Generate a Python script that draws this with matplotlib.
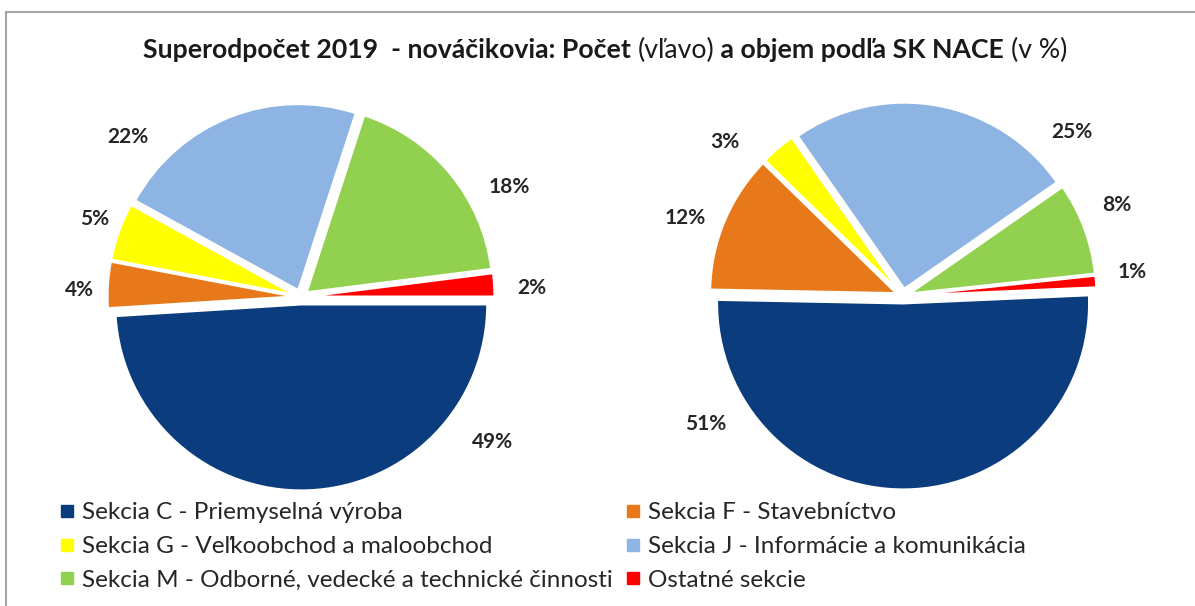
import matplotlib
matplotlib.use("Agg")
import matplotlib.pyplot as plt
from matplotlib.lines import Line2D
from matplotlib.patches import Rectangle

# ---- data ----
categories = ["Sekcia C - Priemyselná výroba", "Sekcia F - Stavebníctvo",
              "Sekcia G - Veľkoobchod a maloobchod", "Sekcia J - Informácie a komunikácia",
              "Sekcia M - Odborné, vedecké a technické činnosti", "Ostatné sekcie"]
count_pct = [49, 4, 5, 22, 18, 2]      # left pie: Počet
volume_pct = [51, 12, 3, 25, 8, 1]     # right pie: objem
colors = ["#0B3C7D", "#E8791B", "#FFFF00", "#8DB4E2", "#92D050", "#FF0000"]

title_parts = [("Superodpočet 2019  - nováčikovia: Počet ", "bold"), ("(vľavo)", "normal"),
               (" a objem podľa SK NACE ", "bold"), ("(v %)", "normal")]

# layout (label positions in pie radius units)
left_label_pos = [(1.03, -0.78), (-1.19, 0.04), (-1.11, 0.42), (-0.93, 0.86), (1.12, 0.59), (1.24, 0.05)]
right_label_pos = [(-1.06, -0.69), (-1.17, 0.42), (-0.96, 0.83), (0.91, 0.88), (1.15, 0.49), (1.23, 0.13)]

FONT = "Lato"
plt.rcParams["font.family"] = [FONT, "DejaVu Sans"]

W, H = 1195, 606
fig = plt.figure(figsize=(W / 100, H / 100), dpi=100)

# frame
fig.patches.append(Rectangle((6 / W, -0.05), 1.2, (H - 12) / H + 0.05, transform=fig.transFigure,
                             fill=False, edgecolor="#A6A6A6", linewidth=1.5))

R = 186
half = 1.32


def pie_axes(cx, cy_top):
    w = 2 * half * R
    cy = H - cy_top
    return fig.add_axes([(cx - w / 2) / W, (cy - w / 2) / H, w / W, w / H])


def draw_pie(ax, values, start, label_pos):
    ax.pie(values, colors=colors, startangle=start, counterclock=False, radius=1.0,
           explode=[0.04] * len(values),
           wedgeprops=dict(edgecolor="white", linewidth=1.5))
    for v, (x, y) in zip(values, label_pos):
        ax.text(x, y, f"{v}%", ha="center", va="center", fontsize=15, fontweight="bold",
                color="#262626")
    ax.set_xlim(-half, half)
    ax.set_ylim(-half, half)
    ax.set_aspect("equal")
    ax.axis("off")


axL = pie_axes(301, 297)
draw_pie(axL, count_pct, 0, left_label_pos)
axR = pie_axes(903, 296)
draw_pie(axR, volume_pct, 2.5, right_label_pos)

# title with mixed weights
fig.canvas.draw()
renderer = fig.canvas.get_renderer()
texts = []
x = 0
ty = 1 - 58 / H
for s, wgt in title_parts:
    t = fig.text(x, ty, s, fontsize=19.2, fontweight=wgt, color="#1a1a1a", va="baseline", ha="left")
    bb = t.get_window_extent(renderer)
    texts.append(t)
    x += bb.width / W
total = x
x0 = 605 / W - total / 2
cur = x0
for t in texts:
    w = t.get_window_extent(renderer).width / W
    t.set_x(cur)
    cur += w

# legend
handles = [Line2D([], [], marker="s", linestyle="none", markersize=8.5, markerfacecolor=c,
                  markeredgecolor=c) for c in colors]
order = [0, 2, 4, 1, 3, 5]
fig.legend([handles[i] for i in order], [categories[i] for i in order], ncol=2,
           loc="upper left", bbox_to_anchor=(48 / W, 1 - 490 / H), frameon=False,
           fontsize=17.5, handlelength=0.55, handletextpad=0.35, columnspacing=0.55,
           labelspacing=0.53, borderpad=0, labelcolor="#262626")

fig.savefig("out.png", dpi=100, facecolor="white")
